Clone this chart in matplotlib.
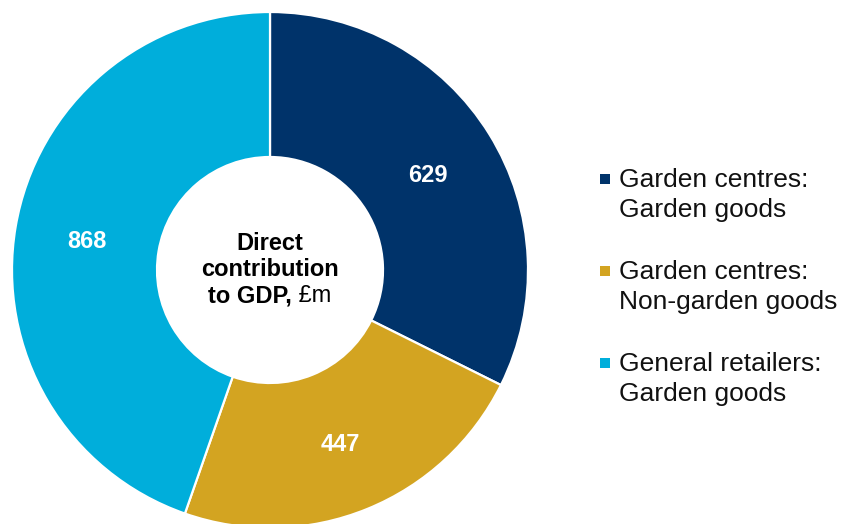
import numpy as np
import matplotlib.pyplot as plt
from matplotlib.patches import Rectangle

plt.rcParams['font.family'] = ['Liberation Sans', 'DejaVu Sans']

# Direct contribution to GDP, £m
segmentos = ['Garden centres:\nGarden goods',
             'Garden centres:\nNon-garden goods',
             'General retailers:\nGarden goods']
valores = [629, 447, 868]
colores = ['#00336A', '#D3A421', '#00AEDB']

W, H = 843, 524
fig = plt.figure(figsize=(W / 100, H / 100), dpi=100)
ax = fig.add_axes([0, 0, 1, 1])

# geometria del anillo en pixeles
cx, cy = 270, H - 270
r_ext, r_int = 258, 113

wedges, _ = ax.pie(valores, colors=colores, startangle=90, counterclock=False,
                   radius=r_ext, center=(cx, cy),
                   wedgeprops=dict(width=r_ext - r_int, edgecolor='white', linewidth=1.6))
ax.set_xlim(0, W)
ax.set_ylim(0, H)
ax.set_aspect('equal')
ax.axis('off')

# valores en el centro de cada sector
r_txt = (r_ext + r_int) / 2
for w, v in zip(wedges, valores):
    ang = np.deg2rad((w.theta1 + w.theta2) / 2)
    ax.text(cx + r_txt * np.cos(ang), cy + r_txt * np.sin(ang) - 3, str(v),
            color='white', fontsize=17, fontweight='bold', ha='center', va='center')

# texto central
ax.text(cx, H - 250, 'Direct', fontsize=17, fontweight='bold', ha='center', va='baseline')
ax.text(cx, H - 276, 'contribution', fontsize=17, fontweight='bold', ha='center', va='baseline')
t1 = ax.text(0, H - 302, 'to GDP,', fontsize=17, fontweight='bold', ha='left', va='baseline')
t2 = ax.text(0, H - 302, ' £m', fontsize=17, ha='left', va='baseline')
rend = fig.canvas.get_renderer()
w1 = t1.get_window_extent(rend).width
w2 = t2.get_window_extent(rend).width
x0 = cx - (w1 + w2) / 2
t1.set_x(x0)
t2.set_x(x0 + w1)

# leyenda manual
y_base = 187
for i, (seg, col) in enumerate(zip(segmentos, colores)):
    yb = y_base + i * 92
    ax.add_patch(Rectangle((600, H - yb + 3), 10, 10, color=col, lw=0))
    for j, linea in enumerate(seg.split('\n')):
        ax.text(619, H - (yb + j * 30), linea, fontsize=19, ha='left', va='baseline',
                color='#111111')

fig.savefig('out.png', dpi=100)
